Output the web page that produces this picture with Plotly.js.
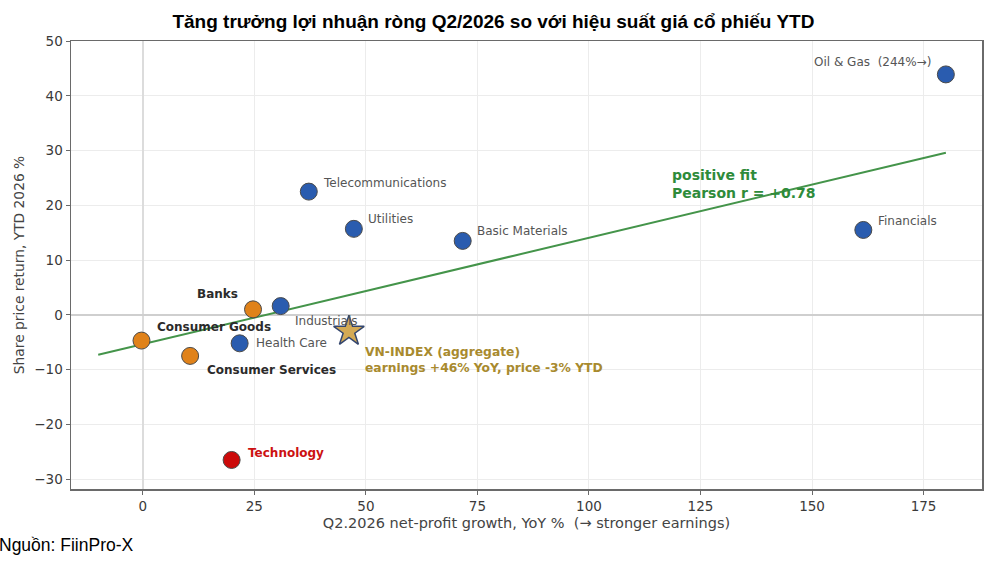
<!DOCTYPE html>
<html>
<head>
<meta charset="utf-8">
<script src="https://cdn.plot.ly/plotly-3.0.1.min.js"></script>
<style>
html,body{margin:0;padding:0;background:#fff;}
#chart{width:1007px;height:564px;}
</style>
</head>
<body>
<div id="chart"></div>
<script>
// ---- data ----
const sectors = ["Oil & Gas", "Financials", "Basic Materials", "Utilities", "Telecommunications", "Industrials", "Banks", "Consumer Goods", "Health Care", "Consumer Services", "Technology"];
const profitGrowth = [180, 161.5, 71.7, 47.3, 37.2, 30.9, 24.7, -0.3, 21.7, 10.6, 19.9];
const priceReturn = [43.9, 15.5, 13.5, 15.7, 22.5, 1.6, 1.0, -4.7, -5.2, -7.5, -26.5];
const indexName = ["VN-INDEX"];
const indexGrowth = [46.2];
const indexReturn = [-3.0];
const fitX = [-10, 180];
const fitY = [-7.3, 29.6];
const xTicks = [0, 25, 50, 75, 100, 125, 150, 175];
const yTicks = [-30, -20, -10, 0, 10, 20, 30, 40, 50];

// ---- styles ----
const BLUE = "#2a5caf", ORANGE = "#e0821a", RED = "#cc0a0a";
const groupOf = {
  "Banks": "orange", "Consumer Goods": "orange", "Consumer Services": "orange",
  "Technology": "red"
};
const fillOf = g => g === "orange" ? ORANGE : g === "red" ? RED : BLUE;
const labelStyle = {
  "Oil & Gas": {text: "Oil & Gas  (244%→)", xanchor: "right", dx: -13, dy: 12},
  "Financials": {dx: 13, dy: 9},
  "Basic Materials": {dx: 12, dy: 10},
  "Utilities": {dx: 12, dy: 10},
  "Telecommunications": {dx: 12, dy: 9},
  "Industrials": {dx: 12, dy: -15},
  "Banks": {xanchor: "right", dx: -13, dy: 15},
  "Consumer Goods": {dx: 14, dy: 14},
  "Health Care": {dx: 14, dy: 0},
  "Consumer Services": {dx: 15, dy: -14},
  "Technology": {dx: 14, dy: 7}
};

const markerColors = sectors.map(s => fillOf(groupOf[s]));

const traces = [
  {
    x: fitX, y: fitY, type: "scatter", mode: "lines",
    line: {color: "#44944a", width: 2}, hoverinfo: "skip", showlegend: false
  },
  {
    x: profitGrowth, y: priceReturn, text: sectors, type: "scatter", mode: "markers",
    marker: {size: 17, color: markerColors, line: {color: "#4a4a4a", width: 1}},
    showlegend: false
  },
  {
    x: indexGrowth, y: indexReturn, text: indexName, type: "scatter", mode: "markers",
    marker: {symbol: "star", size: 23, color: "#d4aa55", line: {color: "#34466e", width: 1.5}},
    showlegend: false
  }
];

const annotations = sectors.map((s, i) => {
  const st = labelStyle[s] || {};
  const g = groupOf[s];
  let font;
  if (g === "orange") font = {family: "DejaVu Sans", size: 12, color: "#2b2b2b"};
  else if (g === "red") font = {family: "DejaVu Sans", size: 12, color: "#cc1111"};
  else font = {family: "DejaVu Sans", size: 12, color: "#555555"};
  let txt = st.text || s;
  if (g) txt = "<b>" + txt + "</b>";
  return {
    x: profitGrowth[i], y: priceReturn[i], xref: "x", yref: "y",
    text: txt, showarrow: false, xanchor: st.xanchor || "left", yanchor: "middle",
    xshift: st.dx || 0, yshift: st.dy || 0, font: font
  };
});

annotations.push({
  x: indexGrowth[0], y: indexReturn[0], xref: "x", yref: "y",
  text: "<b>VN-INDEX (aggregate)<br>earnings +" + indexGrowth[0].toFixed(0) + "% YoY, price " + indexReturn[0].toFixed(0) + "% YTD</b>",
  showarrow: false, xanchor: "left", yanchor: "middle", align: "left",
  xshift: 14, yshift: -29,
  font: {family: "DejaVu Sans", size: 12.3, color: "#a88a2e"}
});
annotations.push({
  x: 118.2, y: 23.8, xref: "x", yref: "y",
  text: "<b>positive fit<br>Pearson r = +0.78</b>",
  showarrow: false, xanchor: "left", yanchor: "middle", align: "left",
  font: {family: "DejaVu Sans", size: 14, color: "#2e8b3a"}
});
annotations.push({
  x: -0.081, y: -0.125, xref: "paper", yref: "paper",
  text: "Nguồn: FiinPro-X", showarrow: false, xanchor: "left", yanchor: "middle",
  font: {family: "Liberation Sans, Arial", size: 17.5, color: "#000"}
});

const layout = {
  width: 1007, height: 564,
  margin: {l: 71, r: 25, t: 41, b: 75},
  paper_bgcolor: "#fff", plot_bgcolor: "#fff",
  title: {
    text: "<b>Tăng trưởng lợi nhuận ròng Q2/2026 so với hiệu suất giá cổ phiếu YTD</b>",
    font: {family: "Liberation Sans, Arial", size: 19, color: "#000"},
    x: 0.49, xanchor: "center", y: 0.962, yanchor: "middle"
  },
  xaxis: {
    range: [-16.1, 188.1], tickvals: xTicks, ticktext: xTicks.map(String),
    showgrid: true, gridcolor: "#ececec", gridwidth: 1,
    zeroline: true, zerolinecolor: "#dcdcdc", zerolinewidth: 1.5,
    showline: true, mirror: true, linecolor: "#6a6a6a", linewidth: 1.5,
    ticks: "outside", ticklen: 4, tickcolor: "#6a6a6a",
    tickfont: {family: "DejaVu Sans", size: 13.5, color: "#3a3a3a"},
    title: {text: "Q2.2026 net-profit growth, YoY %  (→ stronger earnings)",
      font: {family: "DejaVu Sans", size: 14.5, color: "#444"}, standoff: 5},
    fixedrange: true
  },
  yaxis: {
    range: [-31.8, 50], tickvals: yTicks, ticktext: yTicks.map(v => v < 0 ? "\u2212" + Math.abs(v) : String(v)),
    showgrid: true, gridcolor: "#ececec", gridwidth: 1,
    zeroline: true, zerolinecolor: "#cfcfcf", zerolinewidth: 1.5,
    showline: true, mirror: true, linecolor: "#6a6a6a", linewidth: 1.5,
    ticks: "outside", ticklen: 4, tickcolor: "#6a6a6a",
    tickfont: {family: "DejaVu Sans", size: 13.5, color: "#3a3a3a"},
    title: {text: "Share price return, YTD 2026 %",
      font: {family: "DejaVu Sans", size: 13.8, color: "#444"}, standoff: 6},
    fixedrange: true
  },
  annotations: annotations,
  showlegend: false
};

Plotly.newPlot("chart", traces, layout, {displayModeBar: false, staticPlot: true});
</script>
</body>
</html>
